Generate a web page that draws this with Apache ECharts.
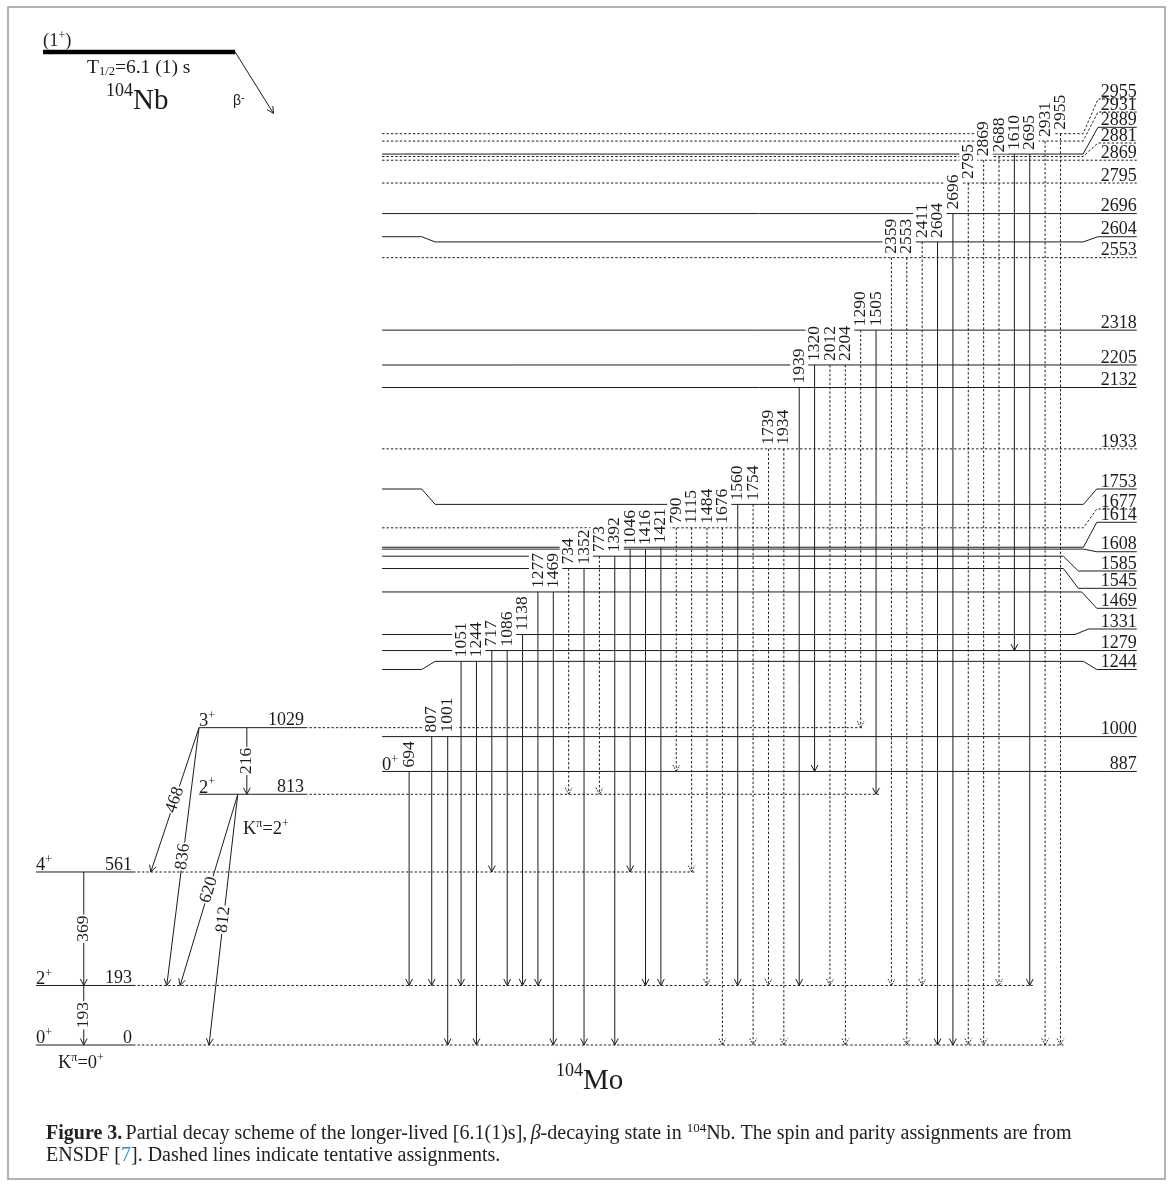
<!DOCTYPE html>
<html>
<head>
<meta charset="utf-8">
<script src="https://cdn.jsdelivr.net/npm/echarts@6/dist/echarts.min.js"></script>
<style>
html,body{margin:0;padding:0;background:#fff;}
#chart{width:1171px;height:1186px;}
</style>
</head>
<body>
<div id="chart"></div>
<script>
// ================= DATA (keV) =================
// 104Mo levels in the right-hand panel
const levelEnergies  = [887,1000,1244,1279,1331,1469,1545,1585,1608,1614,1677,1753,1933,2132,2205,2318,2553,2604,2696,2795,2869,2881,2889,2931,2955];
const levelTentative = [0,0,0,0,0,0,0,0,0,0,1,0,1,0,0,0,1,0,0,1,1,1,0,1,1];
const levelSpinText  = {887:'0'};

// ground-state band (K=0) and gamma band (K=2)
const bandEnergies = [0,193,561,813,1029];
const bandSpins    = ['0','2','4','2','3'];
const bandK        = [0,0,0,2,2];

// gamma transitions feeding down from the right-hand panel (left-to-right order)
const gammaLabels = [694,807,1001,1051,1244,717,1086,1138,1277,1469,734,1352,773,1392,1046,1416,1421,790,1115,1484,1676,1560,1754,1739,1934,1939,1320,2012,2204,1290,1505,2359,2553,2411,2604,2696,2795,2869,2688,1610,2695,2931,2955];
const gammaFrom   = [887,1000,1000,1244,1244,1279,1279,1331,1469,1469,1545,1545,1585,1585,1608,1608,1614,1677,1677,1677,1677,1753,1753,1933,1933,2132,2205,2205,2205,2318,2318,2553,2553,2604,2604,2696,2795,2869,2881,2889,2889,2931,2955];
const gammaTo     = [193,193,0,193,0,561,193,193,193,0,813,0,813,0,561,193,193,887,561,193,0,193,0,193,0,193,887,193,0,1029,813,193,0,193,0,0,0,0,193,1279,193,0,0];
const gammaTentative = [0,0,0,0,0,0,0,0,0,0,1,0,1,0,0,0,0,1,1,1,1,0,1,1,1,0,0,1,1,1,0,1,1,1,0,0,1,1,1,0,0,1,1];

// in-band / inter-band transitions on the left
const bandGammaLabels = [193,369,216,468,836,620,812];
const bandGammaFrom   = [193,561,1029,1029,1029,813,813];
const bandGammaTo     = [0,193,813,561,193,193,0];

// ================= LAYOUT (x in column units, y in keV) =================
const X_MIN = -30, X_MAX = 46.19, E_MIN = -457.2, E_MAX = 3388.5;
const L = {
  panelX0: -5.14, panelX1: 43.96, kinkL: [-2.56, -1.69],
  gsbX: [-27.65, -21.34], gamX: [-17.05, -10.15],
  firstCols: [-3.38, -1.91, -0.87],
  parentX: [-27.2, -14.7], parentE: 3220, betaEnd: [-12.21, 3021]
};
const bandGammaX = [[-24.55,-24.55],[-24.55,-24.55],[-13.94,-13.94],[-17.05,-20.19],[-17.05,-19.15],[-14.53,-18.28],[-14.53,-16.4]];
const RK = [40.49, 41.36], RK2 = [40.47, 41.44];
const levelShift = {
  1244:{left:1, right:RK, labelE:1217.6},
  1331:{right:[39.95,40.81], labelE:1348.9},
  1469:{right:[40.38,41.36], labelE:1416},
  1545:{right:[39.19,40.16], labelE:1480.9},
  1585:{right:[39.19,40.16], labelE:1537},
  1608:{right:RK, labelE:1599.5},
  1614:{right:RK, labelE:1694.9},
  1677:{right:RK, labelE:1738},
  1753:{left:1, right:RK, labelE:1802.9},
  2604:{left:1, right:RK2, labelE:2620.9},
  2881:{right:RK2, labelE:2924.8},
  2889:{right:RK2, labelE:2975.7},
  2931:{right:RK2, labelE:3025.3},
  2955:{right:RK2, labelE:3067.4}
};

const FAM = 'Liberation Serif';
const SERIF = "'Liberation Serif','DejaVu Serif',serif";
const F_LEV = '18px ' + SERIF;
const F_GAM = '17.5px ' + SERIF;
const INK = '#1c1c1c';
const DASH = [2.4, 2];
const richSup = {
  n:{fontSize:18.5, fontFamily:FAM, lineHeight:21, verticalAlign:'bottom', fill:INK},
  s:{fontSize:12, fontFamily:FAM, lineHeight:12, verticalAlign:'top', fill:INK}
};

function colOf(i){ return i < 3 ? L.firstCols[i] : i - 3; }
function extentCol(E){
  let m = -Infinity;
  gammaTo.forEach((t,i)=>{ if (t === E) m = Math.max(m, colOf(i)); });
  return m + 0.2;
}
function arrowHead(p0, p1, dashed){
  const dx = p1[0]-p0[0], dy = p1[1]-p0[1], len = Math.hypot(dx,dy);
  const ux = dx/len, uy = dy/len, hl = 6.5, hw = 3.4;
  const bx = p1[0]-ux*hl, by = p1[1]-uy*hl;
  return {type:'polyline', shape:{points:[[bx-uy*hw, by+ux*hw],[p1[0],p1[1]],[bx+uy*hw, by-ux*hw]]},
    style:{stroke:INK, lineWidth:1, fill:'none', lineDash: dashed ? [1.6,1.2] : null}};
}

function levelItem(params, api){
  const i = params.dataIndex, E = levelEnergies[i];
  const k = levelShift[E] || {};
  const lab = k.labelE != null ? k.labelE : E;
  const pts = [];
  if (k.left) pts.push(api.coord([L.panelX0, lab]), api.coord([L.kinkL[0], lab]), api.coord([L.kinkL[1], E]));
  else pts.push(api.coord([L.panelX0, E]));
  if (k.right) pts.push(api.coord([k.right[0], E]), api.coord([k.right[1], lab]));
  pts.push(api.coord([L.panelX1, lab]));
  const end = pts[pts.length-1];
  const ch = [
    {type:'polyline', shape:{points:pts}, style:{stroke:INK, lineWidth:1, fill:'none', lineDash: levelTentative[i] ? DASH : null}},
    {type:'text', x:end[0], y:end[1]+2, style:{text:String(E), font:F_LEV, fill:INK, align:'right', verticalAlign:'bottom'}}
  ];
  if (levelSpinText[E] != null) {
    const s = api.coord([L.panelX0, E]);
    ch.push({type:'text', x:s[0], y:s[1]+3, style:{text:'{n|'+levelSpinText[E]+'}{s|+}', rich:richSup, align:'left', verticalAlign:'bottom'}});
  }
  return {type:'group', children:ch};
}

function gammaItem(params, api){
  const i = params.dataIndex, x = colOf(i);
  const p0 = api.coord([x, gammaFrom[i]]), p1 = api.coord([x, gammaTo[i]]);
  const dashed = !!gammaTentative[i];
  return {type:'group', children:[
    {type:'line', shape:{x1:p0[0],y1:p0[1],x2:p1[0],y2:p1[1]}, style:{stroke:INK, lineWidth:1, lineDash: dashed ? DASH : null}},
    arrowHead(p0, p1, dashed),
    {type:'text', x:p0[0], y:p0[1]-3, rotation:Math.PI/2,
      style:{text:String(gammaLabels[i]), font:F_GAM, fill:INK, align:'left', verticalAlign:'middle', backgroundColor:'#fff', padding:[0,1,0,1]}}
  ]};
}

function bandItem(params, api){
  const i = params.dataIndex, E = bandEnergies[i];
  const xs = bandK[i] === 2 ? L.gamX : L.gsbX;
  const a = api.coord([xs[0],E]), b = api.coord([xs[1],E]), c = api.coord([extentCol(E),E]);
  return {type:'group', children:[
    {type:'line', shape:{x1:a[0],y1:a[1],x2:b[0],y2:b[1]}, style:{stroke:INK, lineWidth:1}},
    {type:'line', shape:{x1:b[0],y1:b[1],x2:c[0],y2:c[1]}, style:{stroke:INK, lineWidth:1, lineDash:DASH}},
    {type:'text', x:a[0], y:a[1]+3, style:{text:'{n|'+bandSpins[i]+'}{s|+}', rich:richSup, align:'left', verticalAlign:'bottom'}},
    {type:'text', x:b[0]-1, y:b[1]+2, style:{text:String(E), font:F_LEV, fill:INK, align:'right', verticalAlign:'bottom'}}
  ]};
}

function bandGammaItem(params, api){
  const i = params.dataIndex, xs = bandGammaX[i];
  const p0 = api.coord([xs[0], bandGammaFrom[i]]), p1 = api.coord([xs[1], bandGammaTo[i]]);
  const mx = (p0[0]+p1[0])/2, my = (p0[1]+p1[1])/2;
  const rot = Math.atan2(p1[1]-p0[1], p0[0]-p1[0]);
  return {type:'group', children:[
    {type:'line', shape:{x1:p0[0],y1:p0[1],x2:p1[0],y2:p1[1]}, style:{stroke:INK, lineWidth:1}},
    arrowHead(p0, p1, false),
    {type:'text', x:mx, y:my, rotation:rot,
      style:{text:String(bandGammaLabels[i]), font:F_GAM, fill:INK, align:'center', verticalAlign:'middle', backgroundColor:'#fff', padding:[0,1,0,1]}}
  ]};
}

function parentItem(params, api){
  const a = api.coord([L.parentX[0], L.parentE]), b = api.coord([L.parentX[1], L.parentE]);
  const e = api.coord(L.betaEnd);
  return {type:'group', children:[
    {type:'line', shape:{x1:a[0],y1:a[1],x2:b[0],y2:b[1]}, style:{stroke:'#000', lineWidth:4.5}},
    {type:'line', shape:{x1:b[0],y1:b[1],x2:e[0],y2:e[1]}, style:{stroke:INK, lineWidth:1}},
    arrowHead(b, e, false),
    {type:'text', x:a[0], y:a[1]-1, style:{text:'{n|(1}{s|+}{n|)}', rich:richSup, align:'left', verticalAlign:'bottom'}}
  ]};
}

const chart = echarts.init(document.getElementById('chart'), null, {renderer:'canvas', width:1171, height:1186});
chart.setOption({
  animation:false,
  backgroundColor:'#fff',
  grid:{left:0, right:0, top:0, bottom:0},
  xAxis:{type:'value', min:X_MIN, max:X_MAX, show:false},
  yAxis:{type:'value', min:E_MIN, max:E_MAX, show:false},
  series:[
    {type:'custom', name:'levels', z:2, clip:false, renderItem:levelItem, data:levelEnergies.map((E,i)=>[0,E])},
    {type:'custom', name:'bands', z:2, clip:false, renderItem:bandItem, data:bandEnergies.map((E,i)=>[0,E])},
    {type:'custom', name:'gammas', z:3, clip:false, renderItem:gammaItem, data:gammaLabels.map((g,i)=>[colOf(i), gammaFrom[i]])},
    {type:'custom', name:'bandGammas', z:3, clip:false, renderItem:bandGammaItem, data:bandGammaLabels.map((g,i)=>[0, bandGammaFrom[i]])},
    {type:'custom', name:'parent', z:3, clip:false, renderItem:parentItem, data:[[0,0]]}
  ],
  graphic:[
    {type:'rect', shape:{x:8, y:7, width:1157, height:1172}, style:{fill:'none', stroke:'#9a9a9a', lineWidth:1.5}, z:0},
    {type:'text', x:87, y:56, style:{text:'{n|T}{b|1/2}{n|=6.1 (1) s}', rich:{
        n:{fontSize:19.5, fontFamily:FAM, lineHeight:22, verticalAlign:'bottom', fill:INK},
        b:{fontSize:12.5, fontFamily:FAM, lineHeight:12, verticalAlign:'bottom', fill:INK}}}},
    {type:'text', x:106, y:82, style:{text:'{s|104}{n|Nb}', rich:{
        n:{fontSize:29, fontFamily:FAM, lineHeight:34, verticalAlign:'bottom', fill:INK},
        s:{fontSize:18, fontFamily:FAM, lineHeight:18, verticalAlign:'top', fill:INK}}}},
    {type:'text', x:233, y:92, style:{text:'{n|β}{s|-}', rich:{
        n:{fontSize:14, fontFamily:'Liberation Sans', lineHeight:16, verticalAlign:'bottom', fill:INK},
        s:{fontSize:11, fontFamily:'Liberation Sans', lineHeight:10, verticalAlign:'top', fill:INK}}}},
    {type:'text', x:556, y:1062, style:{text:'{s|104}{n|Mo}', rich:{
        n:{fontSize:29, fontFamily:FAM, lineHeight:34, verticalAlign:'bottom', fill:INK},
        s:{fontSize:18, fontFamily:FAM, lineHeight:18, verticalAlign:'top', fill:INK}}}},
    {type:'text', x:243, y:818, style:{text:'{n|K}{s|π}{n|=2}{s|+}', rich:richSup}},
    {type:'text', x:58, y:1052, style:{text:'{n|K}{s|π}{n|=0}{s|+}', rich:richSup}},
    {type:'text', x:46, y:1122, style:{
        text:'{b|Figure 3.} {n|Partial decay scheme of the longer-lived [6.1(1)s],} {i|β}{n|-decaying state in }{s|104}{n|Nb. The spin and parity assignments are from}',
        rich:{
          b:{fontSize:20, fontFamily:FAM, fontWeight:'bold', lineHeight:22, verticalAlign:'bottom', fill:'#222'},
          n:{fontSize:20, fontFamily:FAM, lineHeight:22, verticalAlign:'bottom', fill:'#222'},
          i:{fontSize:20, fontFamily:FAM, fontStyle:'italic', lineHeight:22, verticalAlign:'bottom', fill:'#222'},
          s:{fontSize:13, fontFamily:FAM, lineHeight:13, verticalAlign:'top', fill:'#222'}}}},
    {type:'text', x:46, y:1144, style:{
        text:'{n|ENSDF [}{c|7}{n|]. Dashed lines indicate tentative assignments.}',
        rich:{
          n:{fontSize:20, fontFamily:FAM, lineHeight:22, verticalAlign:'bottom', fill:'#222'},
          c:{fontSize:20, fontFamily:FAM, lineHeight:22, verticalAlign:'bottom', fill:'#2a8fd0'}}}}
  ]
});
</script>
</body>
</html>
